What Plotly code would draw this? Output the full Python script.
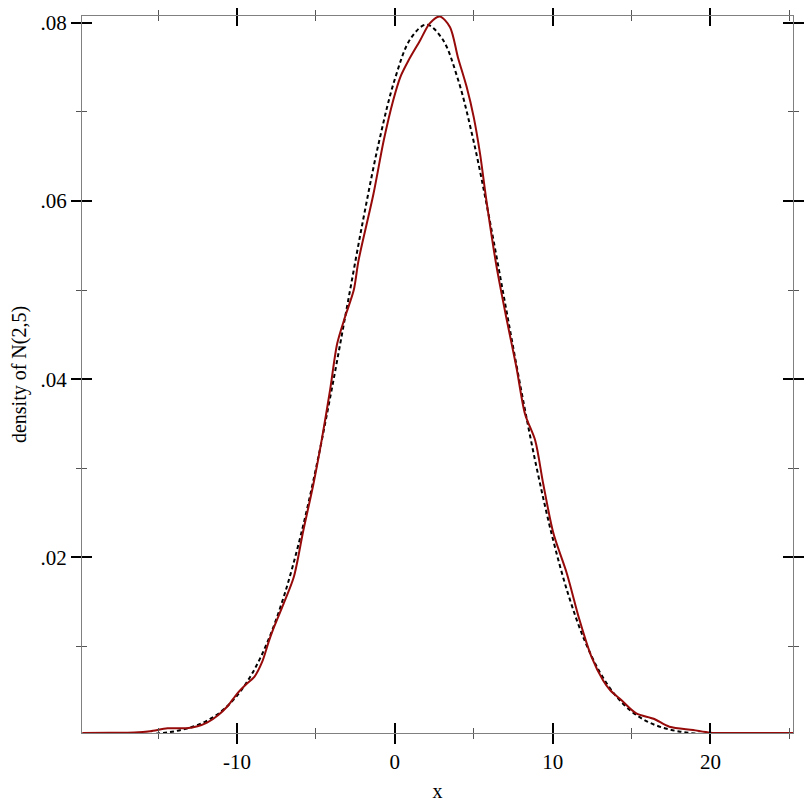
import plotly.graph_objects as go

# Kernel density estimate (solid dark red)
kde_x = [-19.8, -18.0, -16.5, -15.5, -14.4, -13.2, -12.5, -11.9, -11.2, -10.6,
         -10.0, -9.4, -8.9, -8.4, -8.0, -7.65, -7.05, -6.4, -5.8, -5.15,
         -4.6, -4.1, -3.65, -3.15, -2.6, -2.3, -1.35, -0.7, -0.1, 0.35,
         0.85, 1.6, 2.2, 2.85, 3.5, 4.0, 4.55, 5.0, 5.4, 5.8,
         6.45, 7.1, 7.7, 8.25, 8.9, 9.4, 10.05, 10.9, 11.7, 12.45,
         13.2, 13.65, 14.35, 15.3, 16.4, 17.4, 18.9, 20.0, 22.0, 25.23]
kde_y = [0.00030, 0.00032, 0.00036, 0.00050, 0.00083, 0.00083, 0.00105, 0.00146, 0.0023, 0.0033,
         0.0047, 0.0058, 0.0066, 0.0083, 0.0105, 0.0122, 0.0148, 0.0178, 0.0230, 0.0283,
         0.0335, 0.0388, 0.0440, 0.0470, 0.0500, 0.0533, 0.0608, 0.0668, 0.0713, 0.0739,
         0.0757, 0.0780, 0.0799, 0.0807, 0.0795, 0.0761, 0.0728, 0.0694, 0.0653, 0.0601,
         0.0526, 0.0466, 0.0414, 0.0361, 0.0331, 0.0283, 0.0227, 0.0182, 0.0130, 0.0089,
         0.0062, 0.0051, 0.0040, 0.0025, 0.0019, 0.0010, 0.00064, 0.00034, 0.00031, 0.00030]

# Reference density N(2,5) (dotted black)
pdf_x = [-20, -19, -18, -17, -16, -15, -14, -13, -12, -11, -10, -9, -8, -7, -6, -5, -4, -3,
         -2, -1, 0, 1, 2, 3, 4, 5, 6, 7, 8, 9, 10, 11, 12, 13, 14, 15, 16, 17, 18, 19,
         20, 21, 22, 23, 24, 25]
pdf_y = [0.000005, 0.000012, 0.000027, 0.000058, 0.000122, 0.000246, 0.000476, 0.000886,
         0.001583, 0.002717, 0.004479, 0.007095, 0.010798, 0.015790, 0.022184, 0.029945,
         0.038837, 0.048394, 0.057938, 0.066645, 0.073654, 0.078209, 0.079788, 0.078209,
         0.073654, 0.066645, 0.057938, 0.048394, 0.038837, 0.029945, 0.022184, 0.015790,
         0.010798, 0.007095, 0.004479, 0.002717, 0.001583, 0.000886, 0.000476, 0.000246,
         0.000122, 0.000058, 0.000027, 0.000012, 0.000005, 0.000002]

x_ticks = [-10, 0, 10, 20]
x_tick_labels = ["-10", "0", "10", "20"]
x_minor = [-15, -5, 5, 15, 25]
y_ticks = [0.02, 0.04, 0.06, 0.08]
y_tick_labels = [".02", ".04", ".06", ".08"]
y_minor = [0.01, 0.03, 0.05, 0.07]

x_range = [-19.82, 25.23]
y_range = [0.0003, 0.08075]

FONT = "Liberation Serif"
TICK_SIZE = 21
TITLE_SIZE = 20

fig = go.Figure()
fig.add_trace(go.Scatter(x=pdf_x, y=pdf_y, mode="lines",
                         line=dict(color="black", width=2, dash="4px,3px", shape="spline"),
                         showlegend=False, hoverinfo="skip"))
fig.add_trace(go.Scatter(x=kde_x, y=kde_y, mode="lines",
                         line=dict(color="#960a0a", width=2, shape="spline", smoothing=0.8),
                         showlegend=False))
# helper trace so overlay axes are drawn
fig.add_trace(go.Scatter(x=[], y=[], xaxis="x2", yaxis="y2", showlegend=False))

common_major = dict(ticklen=10, tickwidth=2, tickcolor="black", showgrid=False,
                    zeroline=False, showline=True, linecolor="#808080", linewidth=1.3,
                    mirror="ticks", automargin=False)

# the page body adds an 8px offset, so the figure is 804px and margins are shifted
fig.update_layout(
    width=804, height=804,
    margin=dict(l=73.5, r=18.5, t=8, b=79),
    paper_bgcolor="white", plot_bgcolor="white",
    font=dict(family=FONT, size=TICK_SIZE, color="black"),
    xaxis=dict(range=x_range, tickmode="array", tickvals=x_ticks, ticktext=x_tick_labels,
               ticks="outside", tickfont=dict(family=FONT, size=TICK_SIZE),
               minor=dict(tickmode="array", tickvals=x_minor, ticklen=5, tickwidth=1,
                          tickcolor="#555555", ticks="outside"),
               title=dict(text="x", standoff=10, font=dict(family=FONT, size=TITLE_SIZE)),
               **common_major),
    yaxis=dict(range=y_range, tickmode="array", tickvals=y_ticks, ticktext=y_tick_labels,
               ticks="outside", tickfont=dict(family=FONT, size=TICK_SIZE),
               minor=dict(tickmode="array", tickvals=y_minor, ticklen=5, tickwidth=1,
                          tickcolor="#555555", ticks="outside"),
               title=dict(text="density of N(2,5)", standoff=12,
                          font=dict(family=FONT, size=TITLE_SIZE)),
               **common_major),
    xaxis2=dict(range=x_range, overlaying="x", side="bottom", tickmode="array",
                tickvals=x_ticks, ticks="inside", showticklabels=False,
                minor=dict(tickmode="array", tickvals=x_minor, ticklen=5, tickwidth=1,
                           tickcolor="#555555", ticks="inside"),
                **common_major),
    yaxis2=dict(range=y_range, overlaying="y", side="left", tickmode="array",
                tickvals=y_ticks, ticks="inside", showticklabels=False,
                minor=dict(tickmode="array", tickvals=y_minor, ticklen=5, tickwidth=1,
                           tickcolor="#555555", ticks="inside"),
                **common_major),
)

fig.write_html("out.html")
